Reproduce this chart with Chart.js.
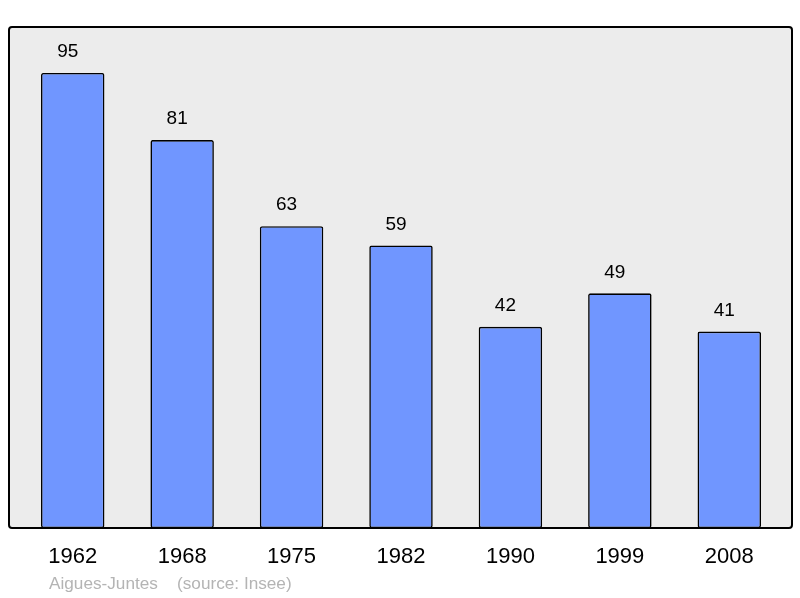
<!DOCTYPE html>
<html>
<head>
<meta charset="utf-8">
<script src="https://cdn.jsdelivr.net/npm/chart.js@4"></script>
<style>
  html, body { margin:0; padding:0; background:#fff; }
  #wrap { width:800px; height:598px; }
</style>
</head>
<body>
<div id="wrap"><canvas id="popChart" width="800" height="598"></canvas></div>
<script>
// Population by census year
const years = ['1962', '1968', '1975', '1982', '1990', '1999', '2008'];
const population = [95, 81, 63, 59, 42, 49, 41];
const footerText = 'Aigues-Juntes    (source: Insee)';

const FONT = '"Liberation Sans", Arial, sans-serif';

// grey panel with black frame behind the bars
const panelBg = {
  id: 'panelBg',
  beforeDraw(chart) {
    const ctx = chart.ctx;
    ctx.save();
    ctx.beginPath();
    ctx.roundRect(9, 27, 783, 501, 3);
    ctx.fillStyle = '#ececec';
    ctx.fill();
    ctx.restore();
  },
  afterDatasetsDraw(chart) {
    const ctx = chart.ctx;
    ctx.save();
    ctx.beginPath();
    ctx.roundRect(9, 27, 783, 501, 3);
    ctx.lineWidth = 2;
    ctx.strokeStyle = '#000';
    ctx.stroke();
    ctx.restore();
  }
};

// numbers above each bar + source line
const barLabels = {
  id: 'barLabels',
  afterDraw(chart) {
    const ctx = chart.ctx;
    const meta = chart.getDatasetMeta(0);
    ctx.save();
    ctx.font = '19px ' + FONT;
    ctx.fillStyle = '#000';
    ctx.textAlign = 'center';
    ctx.textBaseline = 'middle';
    meta.data.forEach((bar, i) => {
      ctx.fillText(population[i], bar.x - 5, bar.y - 21);
    });
    ctx.font = '17.2px ' + FONT;
    ctx.fillStyle = '#b4b4b4';
    ctx.textAlign = 'left';
    ctx.fillText(footerText, 49, 584);
    ctx.restore();
  }
};

new Chart(document.getElementById('popChart').getContext('2d'), {
  type: 'bar',
  data: {
    labels: years,
    datasets: [{
      data: population,
      backgroundColor: '#7096ff',
      borderColor: '#000',
      borderWidth: 1.6,
      borderRadius: 2,
      borderSkipped: false,
      barPercentage: 0.58,
      categoryPercentage: 1
    }]
  },
  options: {
    responsive: false,
    animation: false,
    layout: { padding: { left: 18, right: 16, top: 27, bottom: 0 } },
    plugins: { legend: { display: false }, tooltip: { enabled: false } },
    scales: {
      x: {
        grid: { display: false, drawTicks: false },
        border: { display: false },
        ticks: { color: '#000', font: { family: FONT, size: 22 }, padding: 16, maxRotation: 0 },
        afterFit(scale) { scale.height = 70; }
      },
      y: { display: false, min: 0, max: 104.6 }
    }
  },
  plugins: [panelBg, barLabels]
});
</script>
</body>
</html>
